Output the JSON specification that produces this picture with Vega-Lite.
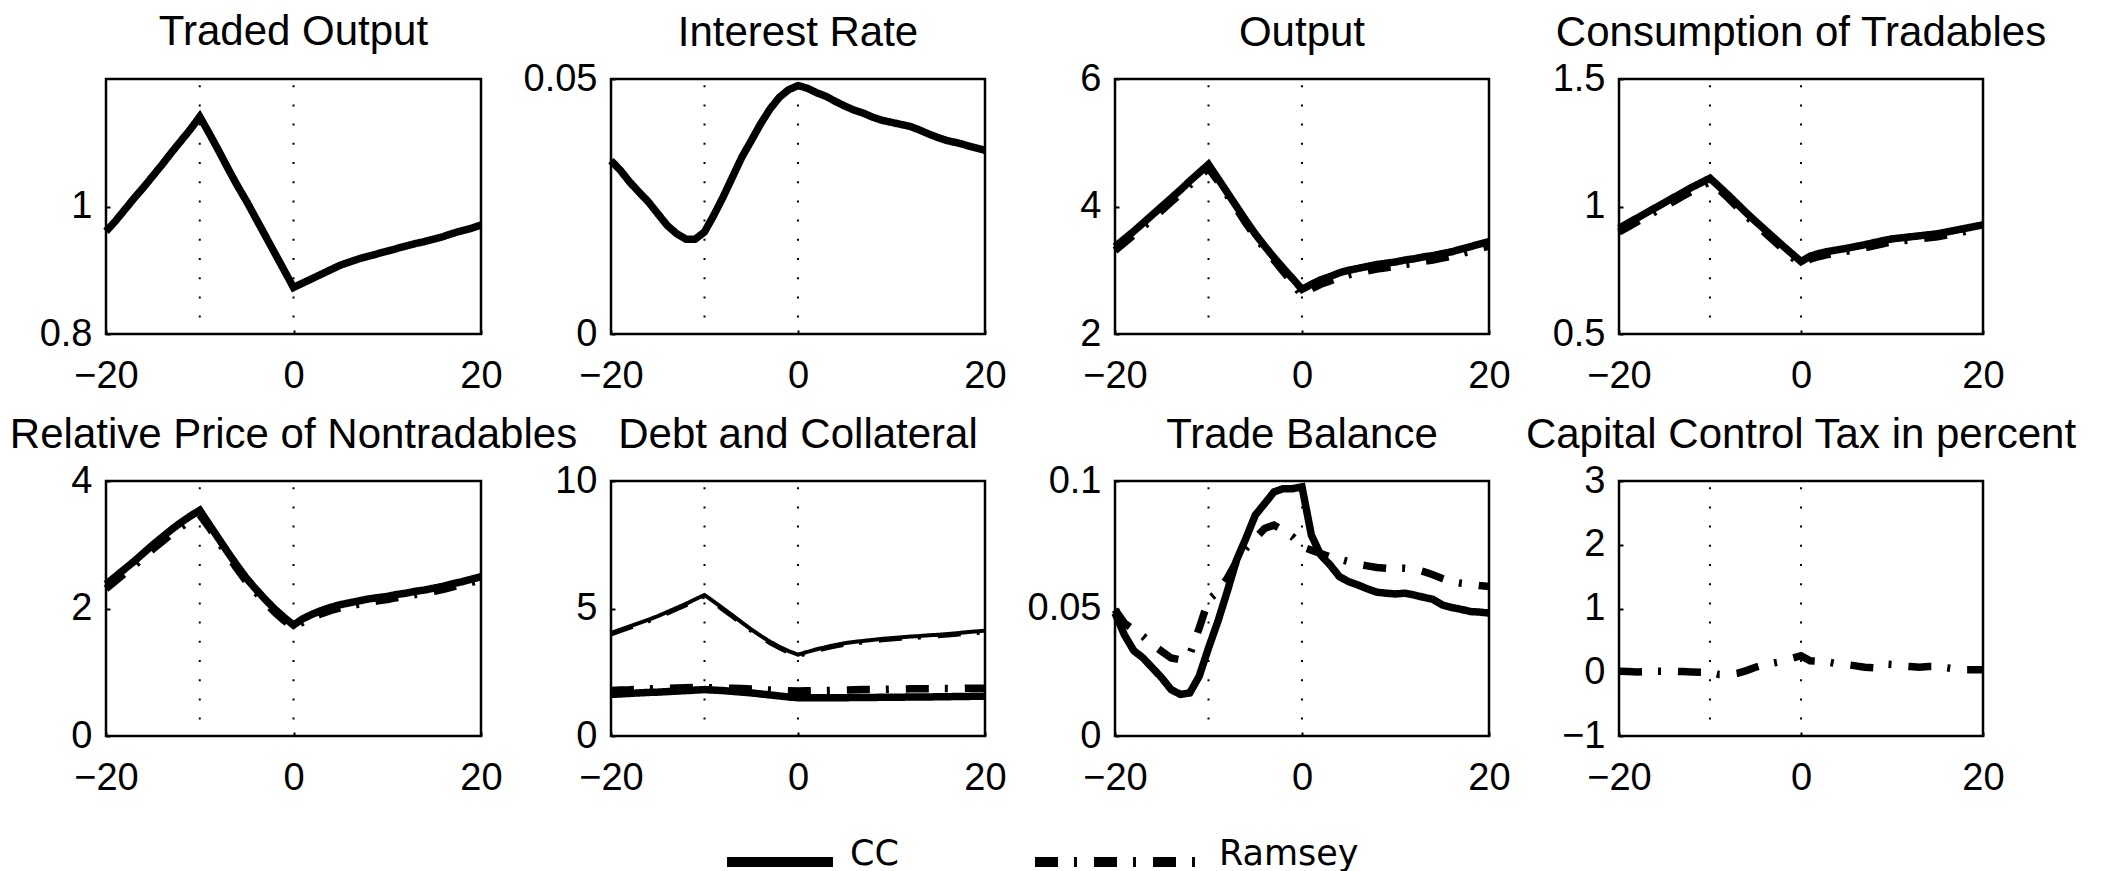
{
"$schema": "https://vega.github.io/schema/vega-lite/v6.json",
"background": "white",
"padding": {"left": 8, "top": 9, "right": 5, "bottom": 5},
"config": {
 "view": {"stroke": "black", "strokeWidth": 2.5},
 "font": "Liberation Sans",
 "axis": {"domain": false, "grid": false, "tickColor": "black", "tickWidth": 2, "tickSize": -4, "labelFont": "Liberation Sans", "labelFontSize": 38, "labelColor": "black", "labelFlush": false},
 "axisX": {"labelPadding": 27},
 "axisY": {"labelPadding": 18},
 "title": {"font": "Liberation Sans", "fontSize": 42, "fontWeight": "normal", "color": "black", "anchor": "middle", "frame": "group", "offset": 5, "baseline": "alphabetic"},
 "legend": {"orient": "none", "legendX": 597, "legendY": 718, "direction": "horizontal", "symbolType": "stroke", "symbolSize": 14400, "symbolStrokeWidth": 10, "symbolStrokeColor": "black", "labelFont": "DejaVu Sans", "labelFontSize": 35, "labelColor": "black", "labelOffset": 17, "columnPadding": 116, "padding": 0}
},
"datasets": {
 "to": [{"x":-20,"s":"CC","y":0.961},{"x":-19,"s":"CC","y":0.977},{"x":-18,"s":"CC","y":0.995},{"x":-17,"s":"CC","y":1.013},{"x":-16,"s":"CC","y":1.030},{"x":-15,"s":"CC","y":1.048},{"x":-14,"s":"CC","y":1.066},{"x":-13,"s":"CC","y":1.085},{"x":-12,"s":"CC","y":1.103},{"x":-11,"s":"CC","y":1.121},{"x":-10,"s":"CC","y":1.141},{"x":-9,"s":"CC","y":1.115},{"x":-8,"s":"CC","y":1.088},{"x":-7,"s":"CC","y":1.060},{"x":-6,"s":"CC","y":1.033},{"x":-5,"s":"CC","y":1.008},{"x":-4,"s":"CC","y":0.981},{"x":-3,"s":"CC","y":0.954},{"x":-2,"s":"CC","y":0.927},{"x":-1,"s":"CC","y":0.900},{"x":0,"s":"CC","y":0.873},{"x":1,"s":"CC","y":0.880},{"x":2,"s":"CC","y":0.887},{"x":3,"s":"CC","y":0.894},{"x":4,"s":"CC","y":0.901},{"x":5,"s":"CC","y":0.908},{"x":6,"s":"CC","y":0.913},{"x":7,"s":"CC","y":0.918},{"x":8,"s":"CC","y":0.922},{"x":9,"s":"CC","y":0.926},{"x":10,"s":"CC","y":0.930},{"x":11,"s":"CC","y":0.934},{"x":12,"s":"CC","y":0.938},{"x":13,"s":"CC","y":0.942},{"x":14,"s":"CC","y":0.945},{"x":15,"s":"CC","y":0.949},{"x":16,"s":"CC","y":0.953},{"x":17,"s":"CC","y":0.958},{"x":18,"s":"CC","y":0.962},{"x":19,"s":"CC","y":0.966},{"x":20,"s":"CC","y":0.971}],
 "ir": [{"x":-20,"s":"CC","y":0.0340},{"x":-19,"s":"CC","y":0.0321},{"x":-18,"s":"CC","y":0.0298},{"x":-17,"s":"CC","y":0.0278},{"x":-16,"s":"CC","y":0.0259},{"x":-15,"s":"CC","y":0.0236},{"x":-14,"s":"CC","y":0.0213},{"x":-13,"s":"CC","y":0.0197},{"x":-12,"s":"CC","y":0.0186},{"x":-11,"s":"CC","y":0.0186},{"x":-10,"s":"CC","y":0.0200},{"x":-9,"s":"CC","y":0.0233},{"x":-8,"s":"CC","y":0.0269},{"x":-7,"s":"CC","y":0.0308},{"x":-6,"s":"CC","y":0.0347},{"x":-5,"s":"CC","y":0.0379},{"x":-4,"s":"CC","y":0.0412},{"x":-3,"s":"CC","y":0.0441},{"x":-2,"s":"CC","y":0.0464},{"x":-1,"s":"CC","y":0.0479},{"x":0,"s":"CC","y":0.0487},{"x":1,"s":"CC","y":0.0482},{"x":2,"s":"CC","y":0.0473},{"x":3,"s":"CC","y":0.0466},{"x":4,"s":"CC","y":0.0456},{"x":5,"s":"CC","y":0.0447},{"x":6,"s":"CC","y":0.0439},{"x":7,"s":"CC","y":0.0433},{"x":8,"s":"CC","y":0.0425},{"x":9,"s":"CC","y":0.0419},{"x":10,"s":"CC","y":0.0415},{"x":11,"s":"CC","y":0.0411},{"x":12,"s":"CC","y":0.0407},{"x":13,"s":"CC","y":0.0400},{"x":14,"s":"CC","y":0.0392},{"x":15,"s":"CC","y":0.0385},{"x":16,"s":"CC","y":0.0379},{"x":17,"s":"CC","y":0.0375},{"x":18,"s":"CC","y":0.0370},{"x":19,"s":"CC","y":0.0365},{"x":20,"s":"CC","y":0.0360}],
 "out": [{"x":-20,"s":"Ramsey","y":3.31},{"x":-19,"s":"Ramsey","y":3.43},{"x":-18,"s":"Ramsey","y":3.55},{"x":-17,"s":"Ramsey","y":3.68},{"x":-16,"s":"Ramsey","y":3.81},{"x":-15,"s":"Ramsey","y":3.94},{"x":-14,"s":"Ramsey","y":4.07},{"x":-13,"s":"Ramsey","y":4.20},{"x":-12,"s":"Ramsey","y":4.34},{"x":-11,"s":"Ramsey","y":4.47},{"x":-10,"s":"Ramsey","y":4.60},{"x":-9,"s":"Ramsey","y":4.40},{"x":-8,"s":"Ramsey","y":4.18},{"x":-7,"s":"Ramsey","y":3.96},{"x":-6,"s":"Ramsey","y":3.74},{"x":-5,"s":"Ramsey","y":3.53},{"x":-4,"s":"Ramsey","y":3.34},{"x":-3,"s":"Ramsey","y":3.16},{"x":-2,"s":"Ramsey","y":2.98},{"x":-1,"s":"Ramsey","y":2.80},{"x":0,"s":"Ramsey","y":2.60},{"x":1,"s":"Ramsey","y":2.71},{"x":2,"s":"Ramsey","y":2.78},{"x":3,"s":"Ramsey","y":2.83},{"x":4,"s":"Ramsey","y":2.89},{"x":5,"s":"Ramsey","y":2.93},{"x":6,"s":"Ramsey","y":2.96},{"x":7,"s":"Ramsey","y":2.99},{"x":8,"s":"Ramsey","y":3.02},{"x":9,"s":"Ramsey","y":3.04},{"x":10,"s":"Ramsey","y":3.06},{"x":11,"s":"Ramsey","y":3.09},{"x":12,"s":"Ramsey","y":3.11},{"x":13,"s":"Ramsey","y":3.14},{"x":14,"s":"Ramsey","y":3.16},{"x":15,"s":"Ramsey","y":3.19},{"x":16,"s":"Ramsey","y":3.22},{"x":17,"s":"Ramsey","y":3.26},{"x":18,"s":"Ramsey","y":3.30},{"x":19,"s":"Ramsey","y":3.34},{"x":20,"s":"Ramsey","y":3.38},
 {"x":-20,"s":"CC","y":3.37},{"x":-19,"s":"CC","y":3.49},{"x":-18,"s":"CC","y":3.61},{"x":-17,"s":"CC","y":3.74},{"x":-16,"s":"CC","y":3.87},{"x":-15,"s":"CC","y":4.00},{"x":-14,"s":"CC","y":4.13},{"x":-13,"s":"CC","y":4.26},{"x":-12,"s":"CC","y":4.40},{"x":-11,"s":"CC","y":4.53},{"x":-10,"s":"CC","y":4.66},{"x":-9,"s":"CC","y":4.44},{"x":-8,"s":"CC","y":4.22},{"x":-7,"s":"CC","y":4.00},{"x":-6,"s":"CC","y":3.78},{"x":-5,"s":"CC","y":3.57},{"x":-4,"s":"CC","y":3.38},{"x":-3,"s":"CC","y":3.20},{"x":-2,"s":"CC","y":3.03},{"x":-1,"s":"CC","y":2.87},{"x":0,"s":"CC","y":2.70},{"x":1,"s":"CC","y":2.78},{"x":2,"s":"CC","y":2.85},{"x":3,"s":"CC","y":2.90},{"x":4,"s":"CC","y":2.96},{"x":5,"s":"CC","y":3.00},{"x":6,"s":"CC","y":3.03},{"x":7,"s":"CC","y":3.06},{"x":8,"s":"CC","y":3.09},{"x":9,"s":"CC","y":3.11},{"x":10,"s":"CC","y":3.13},{"x":11,"s":"CC","y":3.16},{"x":12,"s":"CC","y":3.18},{"x":13,"s":"CC","y":3.21},{"x":14,"s":"CC","y":3.23},{"x":15,"s":"CC","y":3.26},{"x":16,"s":"CC","y":3.29},{"x":17,"s":"CC","y":3.33},{"x":18,"s":"CC","y":3.37},{"x":19,"s":"CC","y":3.41},{"x":20,"s":"CC","y":3.45}],
 "ct": [{"x":-20,"s":"Ramsey","y":0.900},{"x":-19,"s":"Ramsey","y":0.920},{"x":-18,"s":"Ramsey","y":0.940},{"x":-17,"s":"Ramsey","y":0.960},{"x":-16,"s":"Ramsey","y":0.980},{"x":-15,"s":"Ramsey","y":1.000},{"x":-14,"s":"Ramsey","y":1.020},{"x":-13,"s":"Ramsey","y":1.040},{"x":-12,"s":"Ramsey","y":1.060},{"x":-11,"s":"Ramsey","y":1.078},{"x":-10,"s":"Ramsey","y":1.098},{"x":-9,"s":"Ramsey","y":1.066},{"x":-8,"s":"Ramsey","y":1.033},{"x":-7,"s":"Ramsey","y":0.998},{"x":-6,"s":"Ramsey","y":0.963},{"x":-5,"s":"Ramsey","y":0.930},{"x":-4,"s":"Ramsey","y":0.898},{"x":-3,"s":"Ramsey","y":0.866},{"x":-2,"s":"Ramsey","y":0.834},{"x":-1,"s":"Ramsey","y":0.802},{"x":0,"s":"Ramsey","y":0.772},{"x":1,"s":"Ramsey","y":0.793},{"x":2,"s":"Ramsey","y":0.804},{"x":3,"s":"Ramsey","y":0.812},{"x":4,"s":"Ramsey","y":0.818},{"x":5,"s":"Ramsey","y":0.824},{"x":6,"s":"Ramsey","y":0.831},{"x":7,"s":"Ramsey","y":0.838},{"x":8,"s":"Ramsey","y":0.846},{"x":9,"s":"Ramsey","y":0.854},{"x":10,"s":"Ramsey","y":0.861},{"x":11,"s":"Ramsey","y":0.865},{"x":12,"s":"Ramsey","y":0.869},{"x":13,"s":"Ramsey","y":0.873},{"x":14,"s":"Ramsey","y":0.877},{"x":15,"s":"Ramsey","y":0.881},{"x":16,"s":"Ramsey","y":0.888},{"x":17,"s":"Ramsey","y":0.895},{"x":18,"s":"Ramsey","y":0.902},{"x":19,"s":"Ramsey","y":0.909},{"x":20,"s":"Ramsey","y":0.916},
 {"x":-20,"s":"CC","y":0.915},{"x":-19,"s":"CC","y":0.935},{"x":-18,"s":"CC","y":0.955},{"x":-17,"s":"CC","y":0.975},{"x":-16,"s":"CC","y":0.995},{"x":-15,"s":"CC","y":1.015},{"x":-14,"s":"CC","y":1.035},{"x":-13,"s":"CC","y":1.055},{"x":-12,"s":"CC","y":1.075},{"x":-11,"s":"CC","y":1.093},{"x":-10,"s":"CC","y":1.111},{"x":-9,"s":"CC","y":1.078},{"x":-8,"s":"CC","y":1.045},{"x":-7,"s":"CC","y":1.010},{"x":-6,"s":"CC","y":0.975},{"x":-5,"s":"CC","y":0.942},{"x":-4,"s":"CC","y":0.910},{"x":-3,"s":"CC","y":0.878},{"x":-2,"s":"CC","y":0.846},{"x":-1,"s":"CC","y":0.815},{"x":0,"s":"CC","y":0.784},{"x":1,"s":"CC","y":0.805},{"x":2,"s":"CC","y":0.816},{"x":3,"s":"CC","y":0.824},{"x":4,"s":"CC","y":0.830},{"x":5,"s":"CC","y":0.836},{"x":6,"s":"CC","y":0.843},{"x":7,"s":"CC","y":0.850},{"x":8,"s":"CC","y":0.858},{"x":9,"s":"CC","y":0.866},{"x":10,"s":"CC","y":0.873},{"x":11,"s":"CC","y":0.877},{"x":12,"s":"CC","y":0.881},{"x":13,"s":"CC","y":0.885},{"x":14,"s":"CC","y":0.889},{"x":15,"s":"CC","y":0.893},{"x":16,"s":"CC","y":0.900},{"x":17,"s":"CC","y":0.907},{"x":18,"s":"CC","y":0.914},{"x":19,"s":"CC","y":0.921},{"x":20,"s":"CC","y":0.928}],
 "rp": [{"x":-20,"s":"Ramsey","y":2.31},{"x":-19,"s":"Ramsey","y":2.43},{"x":-18,"s":"Ramsey","y":2.55},{"x":-17,"s":"Ramsey","y":2.67},{"x":-16,"s":"Ramsey","y":2.80},{"x":-15,"s":"Ramsey","y":2.93},{"x":-14,"s":"Ramsey","y":3.05},{"x":-13,"s":"Ramsey","y":3.17},{"x":-12,"s":"Ramsey","y":3.28},{"x":-11,"s":"Ramsey","y":3.38},{"x":-10,"s":"Ramsey","y":3.47},{"x":-9,"s":"Ramsey","y":3.27},{"x":-8,"s":"Ramsey","y":3.05},{"x":-7,"s":"Ramsey","y":2.83},{"x":-6,"s":"Ramsey","y":2.62},{"x":-5,"s":"Ramsey","y":2.42},{"x":-4,"s":"Ramsey","y":2.25},{"x":-3,"s":"Ramsey","y":2.09},{"x":-2,"s":"Ramsey","y":1.94},{"x":-1,"s":"Ramsey","y":1.81},{"x":0,"s":"Ramsey","y":1.70},{"x":1,"s":"Ramsey","y":1.79},{"x":2,"s":"Ramsey","y":1.86},{"x":3,"s":"Ramsey","y":1.92},{"x":4,"s":"Ramsey","y":1.97},{"x":5,"s":"Ramsey","y":2.01},{"x":6,"s":"Ramsey","y":2.04},{"x":7,"s":"Ramsey","y":2.07},{"x":8,"s":"Ramsey","y":2.10},{"x":9,"s":"Ramsey","y":2.12},{"x":10,"s":"Ramsey","y":2.14},{"x":11,"s":"Ramsey","y":2.17},{"x":12,"s":"Ramsey","y":2.19},{"x":13,"s":"Ramsey","y":2.22},{"x":14,"s":"Ramsey","y":2.24},{"x":15,"s":"Ramsey","y":2.27},{"x":16,"s":"Ramsey","y":2.30},{"x":17,"s":"Ramsey","y":2.34},{"x":18,"s":"Ramsey","y":2.37},{"x":19,"s":"Ramsey","y":2.41},{"x":20,"s":"Ramsey","y":2.45},
 {"x":-20,"s":"CC","y":2.38},{"x":-19,"s":"CC","y":2.50},{"x":-18,"s":"CC","y":2.62},{"x":-17,"s":"CC","y":2.74},{"x":-16,"s":"CC","y":2.87},{"x":-15,"s":"CC","y":3.00},{"x":-14,"s":"CC","y":3.12},{"x":-13,"s":"CC","y":3.24},{"x":-12,"s":"CC","y":3.35},{"x":-11,"s":"CC","y":3.45},{"x":-10,"s":"CC","y":3.54},{"x":-9,"s":"CC","y":3.32},{"x":-8,"s":"CC","y":3.10},{"x":-7,"s":"CC","y":2.88},{"x":-6,"s":"CC","y":2.67},{"x":-5,"s":"CC","y":2.47},{"x":-4,"s":"CC","y":2.30},{"x":-3,"s":"CC","y":2.14},{"x":-2,"s":"CC","y":1.99},{"x":-1,"s":"CC","y":1.86},{"x":0,"s":"CC","y":1.74},{"x":1,"s":"CC","y":1.84},{"x":2,"s":"CC","y":1.91},{"x":3,"s":"CC","y":1.97},{"x":4,"s":"CC","y":2.02},{"x":5,"s":"CC","y":2.06},{"x":6,"s":"CC","y":2.09},{"x":7,"s":"CC","y":2.12},{"x":8,"s":"CC","y":2.15},{"x":9,"s":"CC","y":2.17},{"x":10,"s":"CC","y":2.19},{"x":11,"s":"CC","y":2.22},{"x":12,"s":"CC","y":2.24},{"x":13,"s":"CC","y":2.27},{"x":14,"s":"CC","y":2.29},{"x":15,"s":"CC","y":2.32},{"x":16,"s":"CC","y":2.35},{"x":17,"s":"CC","y":2.39},{"x":18,"s":"CC","y":2.42},{"x":19,"s":"CC","y":2.46},{"x":20,"s":"CC","y":2.50}],
 "col": [{"x":-20,"s":"Ramsey","y":3.98},{"x":-19,"s":"Ramsey","y":4.11},{"x":-18,"s":"Ramsey","y":4.24},{"x":-17,"s":"Ramsey","y":4.37},{"x":-16,"s":"Ramsey","y":4.50},{"x":-15,"s":"Ramsey","y":4.64},{"x":-14,"s":"Ramsey","y":4.80},{"x":-13,"s":"Ramsey","y":4.96},{"x":-12,"s":"Ramsey","y":5.12},{"x":-11,"s":"Ramsey","y":5.30},{"x":-10,"s":"Ramsey","y":5.47},{"x":-9,"s":"Ramsey","y":5.21},{"x":-8,"s":"Ramsey","y":4.94},{"x":-7,"s":"Ramsey","y":4.67},{"x":-6,"s":"Ramsey","y":4.39},{"x":-5,"s":"Ramsey","y":4.12},{"x":-4,"s":"Ramsey","y":3.87},{"x":-3,"s":"Ramsey","y":3.64},{"x":-2,"s":"Ramsey","y":3.44},{"x":-1,"s":"Ramsey","y":3.27},{"x":0,"s":"Ramsey","y":3.13},{"x":1,"s":"Ramsey","y":3.24},{"x":2,"s":"Ramsey","y":3.34},{"x":3,"s":"Ramsey","y":3.43},{"x":4,"s":"Ramsey","y":3.51},{"x":5,"s":"Ramsey","y":3.58},{"x":6,"s":"Ramsey","y":3.63},{"x":7,"s":"Ramsey","y":3.67},{"x":8,"s":"Ramsey","y":3.71},{"x":9,"s":"Ramsey","y":3.75},{"x":10,"s":"Ramsey","y":3.78},{"x":11,"s":"Ramsey","y":3.81},{"x":12,"s":"Ramsey","y":3.84},{"x":13,"s":"Ramsey","y":3.86},{"x":14,"s":"Ramsey","y":3.89},{"x":15,"s":"Ramsey","y":3.91},{"x":16,"s":"Ramsey","y":3.94},{"x":17,"s":"Ramsey","y":3.97},{"x":18,"s":"Ramsey","y":4.01},{"x":19,"s":"Ramsey","y":4.04},{"x":20,"s":"Ramsey","y":4.07},
 {"x":-20,"s":"CC","y":4.04},{"x":-19,"s":"CC","y":4.17},{"x":-18,"s":"CC","y":4.30},{"x":-17,"s":"CC","y":4.43},{"x":-16,"s":"CC","y":4.56},{"x":-15,"s":"CC","y":4.70},{"x":-14,"s":"CC","y":4.86},{"x":-13,"s":"CC","y":5.02},{"x":-12,"s":"CC","y":5.18},{"x":-11,"s":"CC","y":5.36},{"x":-10,"s":"CC","y":5.53},{"x":-9,"s":"CC","y":5.27},{"x":-8,"s":"CC","y":5.00},{"x":-7,"s":"CC","y":4.73},{"x":-6,"s":"CC","y":4.45},{"x":-5,"s":"CC","y":4.18},{"x":-4,"s":"CC","y":3.93},{"x":-3,"s":"CC","y":3.70},{"x":-2,"s":"CC","y":3.50},{"x":-1,"s":"CC","y":3.33},{"x":0,"s":"CC","y":3.19},{"x":1,"s":"CC","y":3.30},{"x":2,"s":"CC","y":3.40},{"x":3,"s":"CC","y":3.49},{"x":4,"s":"CC","y":3.57},{"x":5,"s":"CC","y":3.64},{"x":6,"s":"CC","y":3.69},{"x":7,"s":"CC","y":3.73},{"x":8,"s":"CC","y":3.77},{"x":9,"s":"CC","y":3.81},{"x":10,"s":"CC","y":3.84},{"x":11,"s":"CC","y":3.87},{"x":12,"s":"CC","y":3.90},{"x":13,"s":"CC","y":3.92},{"x":14,"s":"CC","y":3.95},{"x":15,"s":"CC","y":3.97},{"x":16,"s":"CC","y":4.00},{"x":17,"s":"CC","y":4.03},{"x":18,"s":"CC","y":4.07},{"x":19,"s":"CC","y":4.10},{"x":20,"s":"CC","y":4.13}],
 "debt": [{"x":-20,"s":"Ramsey","y":1.78},{"x":-19,"s":"Ramsey","y":1.80},{"x":-18,"s":"Ramsey","y":1.81},{"x":-17,"s":"Ramsey","y":1.83},{"x":-16,"s":"Ramsey","y":1.85},{"x":-15,"s":"Ramsey","y":1.86},{"x":-14,"s":"Ramsey","y":1.87},{"x":-13,"s":"Ramsey","y":1.88},{"x":-12,"s":"Ramsey","y":1.89},{"x":-11,"s":"Ramsey","y":1.90},{"x":-10,"s":"Ramsey","y":1.90},{"x":-9,"s":"Ramsey","y":1.89},{"x":-8,"s":"Ramsey","y":1.88},{"x":-7,"s":"Ramsey","y":1.87},{"x":-6,"s":"Ramsey","y":1.86},{"x":-5,"s":"Ramsey","y":1.84},{"x":-4,"s":"Ramsey","y":1.82},{"x":-3,"s":"Ramsey","y":1.80},{"x":-2,"s":"Ramsey","y":1.78},{"x":-1,"s":"Ramsey","y":1.77},{"x":0,"s":"Ramsey","y":1.76},{"x":1,"s":"Ramsey","y":1.77},{"x":2,"s":"Ramsey","y":1.78},{"x":3,"s":"Ramsey","y":1.78},{"x":4,"s":"Ramsey","y":1.79},{"x":5,"s":"Ramsey","y":1.80},{"x":6,"s":"Ramsey","y":1.81},{"x":7,"s":"Ramsey","y":1.82},{"x":8,"s":"Ramsey","y":1.82},{"x":9,"s":"Ramsey","y":1.83},{"x":10,"s":"Ramsey","y":1.84},{"x":11,"s":"Ramsey","y":1.84},{"x":12,"s":"Ramsey","y":1.85},{"x":13,"s":"Ramsey","y":1.85},{"x":14,"s":"Ramsey","y":1.85},{"x":15,"s":"Ramsey","y":1.86},{"x":16,"s":"Ramsey","y":1.86},{"x":17,"s":"Ramsey","y":1.86},{"x":18,"s":"Ramsey","y":1.87},{"x":19,"s":"Ramsey","y":1.87},{"x":20,"s":"Ramsey","y":1.87},
 {"x":-20,"s":"CC","y":1.63},{"x":-19,"s":"CC","y":1.65},{"x":-18,"s":"CC","y":1.67},{"x":-17,"s":"CC","y":1.69},{"x":-16,"s":"CC","y":1.71},{"x":-15,"s":"CC","y":1.72},{"x":-14,"s":"CC","y":1.74},{"x":-13,"s":"CC","y":1.76},{"x":-12,"s":"CC","y":1.78},{"x":-11,"s":"CC","y":1.80},{"x":-10,"s":"CC","y":1.82},{"x":-9,"s":"CC","y":1.80},{"x":-8,"s":"CC","y":1.78},{"x":-7,"s":"CC","y":1.75},{"x":-6,"s":"CC","y":1.72},{"x":-5,"s":"CC","y":1.69},{"x":-4,"s":"CC","y":1.65},{"x":-3,"s":"CC","y":1.61},{"x":-2,"s":"CC","y":1.57},{"x":-1,"s":"CC","y":1.53},{"x":0,"s":"CC","y":1.50},{"x":1,"s":"CC","y":1.50},{"x":2,"s":"CC","y":1.50},{"x":3,"s":"CC","y":1.50},{"x":4,"s":"CC","y":1.50},{"x":5,"s":"CC","y":1.50},{"x":6,"s":"CC","y":1.51},{"x":7,"s":"CC","y":1.51},{"x":8,"s":"CC","y":1.51},{"x":9,"s":"CC","y":1.52},{"x":10,"s":"CC","y":1.52},{"x":11,"s":"CC","y":1.52},{"x":12,"s":"CC","y":1.53},{"x":13,"s":"CC","y":1.53},{"x":14,"s":"CC","y":1.53},{"x":15,"s":"CC","y":1.54},{"x":16,"s":"CC","y":1.54},{"x":17,"s":"CC","y":1.55},{"x":18,"s":"CC","y":1.55},{"x":19,"s":"CC","y":1.56},{"x":20,"s":"CC","y":1.56}],
 "tb": [{"x":-20,"s":"Ramsey","y":0.0495},{"x":-19,"s":"Ramsey","y":0.0443},{"x":-18,"s":"Ramsey","y":0.0417},{"x":-17,"s":"Ramsey","y":0.0391},{"x":-16,"s":"Ramsey","y":0.0358},{"x":-15,"s":"Ramsey","y":0.0332},{"x":-14,"s":"Ramsey","y":0.0306},{"x":-13,"s":"Ramsey","y":0.0299},{"x":-12,"s":"Ramsey","y":0.0319},{"x":-11,"s":"Ramsey","y":0.0423},{"x":-10,"s":"Ramsey","y":0.0534},{"x":-9,"s":"Ramsey","y":0.0566},{"x":-8,"s":"Ramsey","y":0.0618},{"x":-7,"s":"Ramsey","y":0.0684},{"x":-6,"s":"Ramsey","y":0.0736},{"x":-5,"s":"Ramsey","y":0.0775},{"x":-4,"s":"Ramsey","y":0.0814},{"x":-3,"s":"Ramsey","y":0.0827},{"x":-2,"s":"Ramsey","y":0.0807},{"x":-1,"s":"Ramsey","y":0.0781},{"x":0,"s":"Ramsey","y":0.0742},{"x":1,"s":"Ramsey","y":0.0729},{"x":2,"s":"Ramsey","y":0.0716},{"x":3,"s":"Ramsey","y":0.0703},{"x":4,"s":"Ramsey","y":0.0694},{"x":5,"s":"Ramsey","y":0.0684},{"x":6,"s":"Ramsey","y":0.0673},{"x":7,"s":"Ramsey","y":0.0667},{"x":8,"s":"Ramsey","y":0.0661},{"x":9,"s":"Ramsey","y":0.0658},{"x":10,"s":"Ramsey","y":0.0658},{"x":11,"s":"Ramsey","y":0.0658},{"x":12,"s":"Ramsey","y":0.0655},{"x":13,"s":"Ramsey","y":0.0645},{"x":14,"s":"Ramsey","y":0.0632},{"x":15,"s":"Ramsey","y":0.0618},{"x":16,"s":"Ramsey","y":0.0605},{"x":17,"s":"Ramsey","y":0.0599},{"x":18,"s":"Ramsey","y":0.0595},{"x":19,"s":"Ramsey","y":0.0590},{"x":20,"s":"Ramsey","y":0.0586},
 {"x":-20,"s":"CC","y":0.0482},{"x":-19,"s":"CC","y":0.0397},{"x":-18,"s":"CC","y":0.0335},{"x":-17,"s":"CC","y":0.0306},{"x":-16,"s":"CC","y":0.0267},{"x":-15,"s":"CC","y":0.0228},{"x":-14,"s":"CC","y":0.0182},{"x":-13,"s":"CC","y":0.0163},{"x":-12,"s":"CC","y":0.0169},{"x":-11,"s":"CC","y":0.0234},{"x":-10,"s":"CC","y":0.0345},{"x":-9,"s":"CC","y":0.0449},{"x":-8,"s":"CC","y":0.0566},{"x":-7,"s":"CC","y":0.0690},{"x":-6,"s":"CC","y":0.0775},{"x":-5,"s":"CC","y":0.0866},{"x":-4,"s":"CC","y":0.0911},{"x":-3,"s":"CC","y":0.0957},{"x":-2,"s":"CC","y":0.0970},{"x":-1,"s":"CC","y":0.0970},{"x":0,"s":"CC","y":0.0977},{"x":1,"s":"CC","y":0.0788},{"x":2,"s":"CC","y":0.0710},{"x":3,"s":"CC","y":0.0671},{"x":4,"s":"CC","y":0.0625},{"x":5,"s":"CC","y":0.0605},{"x":6,"s":"CC","y":0.0592},{"x":7,"s":"CC","y":0.0577},{"x":8,"s":"CC","y":0.0564},{"x":9,"s":"CC","y":0.0560},{"x":10,"s":"CC","y":0.0557},{"x":11,"s":"CC","y":0.0560},{"x":12,"s":"CC","y":0.0553},{"x":13,"s":"CC","y":0.0544},{"x":14,"s":"CC","y":0.0536},{"x":15,"s":"CC","y":0.0514},{"x":16,"s":"CC","y":0.0504},{"x":17,"s":"CC","y":0.0497},{"x":18,"s":"CC","y":0.0488},{"x":19,"s":"CC","y":0.0486},{"x":20,"s":"CC","y":0.0482}],
 "tax": [{"x":-20,"s":"Ramsey","y":0.016},{"x":-19,"s":"Ramsey","y":0.010},{"x":-18,"s":"Ramsey","y":0.005},{"x":-17,"s":"Ramsey","y":0.010},{"x":-16,"s":"Ramsey","y":0.016},{"x":-15,"s":"Ramsey","y":0.016},{"x":-14,"s":"Ramsey","y":0.016},{"x":-13,"s":"Ramsey","y":0.010},{"x":-12,"s":"Ramsey","y":0.005},{"x":-11,"s":"Ramsey","y":0.0},{"x":-10,"s":"Ramsey","y":0.0},{"x":-9,"s":"Ramsey","y":-0.036},{"x":-8,"s":"Ramsey","y":-0.036},{"x":-7,"s":"Ramsey","y":-0.016},{"x":-6,"s":"Ramsey","y":0.026},{"x":-5,"s":"Ramsey","y":0.078},{"x":-4,"s":"Ramsey","y":0.12},{"x":-3,"s":"Ramsey","y":0.146},{"x":-2,"s":"Ramsey","y":0.172},{"x":-1,"s":"Ramsey","y":0.22},{"x":0,"s":"Ramsey","y":0.26},{"x":1,"s":"Ramsey","y":0.18},{"x":2,"s":"Ramsey","y":0.17},{"x":3,"s":"Ramsey","y":0.16},{"x":4,"s":"Ramsey","y":0.13},{"x":5,"s":"Ramsey","y":0.12},{"x":6,"s":"Ramsey","y":0.10},{"x":7,"s":"Ramsey","y":0.08},{"x":8,"s":"Ramsey","y":0.07},{"x":9,"s":"Ramsey","y":0.13},{"x":10,"s":"Ramsey","y":0.12},{"x":11,"s":"Ramsey","y":0.10},{"x":12,"s":"Ramsey","y":0.09},{"x":13,"s":"Ramsey","y":0.08},{"x":14,"s":"Ramsey","y":0.09},{"x":15,"s":"Ramsey","y":0.09},{"x":16,"s":"Ramsey","y":0.07},{"x":17,"s":"Ramsey","y":0.05},{"x":18,"s":"Ramsey","y":0.04},{"x":19,"s":"Ramsey","y":0.04},{"x":20,"s":"Ramsey","y":0.04}],
 "vl": [{"x":-10},{"x":0}]
},
"columns": 4,
"spacing": {"row": 147, "column": 130},
"bounds": "flush",
"resolve": {"scale": {"strokeDash": "shared"}, "legend": {"strokeDash": "shared"}},
"concat": [
 {"title": {"text": "Traded Output", "offset": 24}, "width": 375, "height": 255, "layer": [
  {"data": {"name": "vl"}, "mark": {"type": "rule", "color": "black", "strokeWidth": 2, "strokeDash": [2, 17.2], "strokeDashOffset": 13}, "encoding": {"x": {"field": "x", "type": "quantitative", "title": null, "scale": {"domain": [-20, 20], "nice": false, "zero": false, "padding": 0}}}},
  {"data": {"name": "to"}, "mark": {"type": "line", "color": "black", "strokeWidth": 7.5},
   "encoding": {"x": {"field": "x", "type": "quantitative", "title": null, "scale": {"domain": [-20, 20], "nice": false, "zero": false, "padding": 0}, "axis": {"values": [-20, 0, 20], "format": "~r"}},
    "y": {"field": "y", "type": "quantitative", "title": null, "scale": {"domain": [0.8, 1.2], "nice": false, "zero": false}, "axis": {"values": [0.8, 1], "format": "~r"}},
    "strokeDash": {"field": "s", "type": "nominal", "scale": {"domain": ["CC", "Ramsey"], "range": [[1, 0], [23, 16, 3, 17]]},
     "legend": {"title": null, "encode": {"labels": {"update": {"dy": {"value": -8}}}, "symbols": {"update": {"shape": {"signal": "datum.value === 'CC' ? 'M-0.683,0H1.083' : 'M-1.7,0H1.067'"}, "strokeDash": {"signal": "datum.value === 'CC' ? [1, 0] : [24, 11, 8, 13]"}}}}}
    }
   }
  }
 ]},
 {"title": "Interest Rate", "width": 374, "height": 255, "layer": [
  {"data": {"name": "vl"}, "mark": {"type": "rule", "color": "black", "strokeWidth": 2, "strokeDash": [2, 17.2], "strokeDashOffset": 13}, "encoding": {"x": {"field": "x", "type": "quantitative", "title": null, "scale": {"domain": [-20, 20], "nice": false, "zero": false, "padding": 0}}}},
  {"data": {"name": "ir"}, "mark": {"type": "line", "color": "black", "strokeWidth": 7.5},
   "encoding": {"x": {"field": "x", "type": "quantitative", "title": null, "scale": {"domain": [-20, 20], "nice": false, "zero": false, "padding": 0}, "axis": {"values": [-20, 0, 20], "format": "~r"}},
    "y": {"field": "y", "type": "quantitative", "title": null, "scale": {"domain": [0, 0.05], "nice": false, "zero": false}, "axis": {"values": [0, 0.05], "format": "~r"}},
    "strokeDash": {"field": "s", "type": "nominal", "scale": {"domain": ["CC", "Ramsey"], "range": [[1, 0], [23, 16, 3, 17]]},
     "legend": {"title": null, "encode": {"labels": {"update": {"dy": {"value": -8}}}, "symbols": {"update": {"shape": {"signal": "datum.value === 'CC' ? 'M-0.683,0H1.083' : 'M-1.7,0H1.067'"}, "strokeDash": {"signal": "datum.value === 'CC' ? [1, 0] : [24, 11, 8, 13]"}}}}}
    }
   }
  }
 ]},
 {"title": "Output", "width": 374, "height": 255, "layer": [
  {"data": {"name": "vl"}, "mark": {"type": "rule", "color": "black", "strokeWidth": 2, "strokeDash": [2, 17.2], "strokeDashOffset": 13}, "encoding": {"x": {"field": "x", "type": "quantitative", "title": null, "scale": {"domain": [-20, 20], "nice": false, "zero": false, "padding": 0}}}},
  {"data": {"name": "out"}, "mark": {"type": "line", "color": "black", "strokeWidth": 7.5},
   "encoding": {"x": {"field": "x", "type": "quantitative", "title": null, "scale": {"domain": [-20, 20], "nice": false, "zero": false, "padding": 0}, "axis": {"values": [-20, 0, 20], "format": "~r"}},
    "y": {"field": "y", "type": "quantitative", "title": null, "scale": {"domain": [2, 6], "nice": false, "zero": false}, "axis": {"values": [2, 4, 6], "format": "~r"}},
    "strokeDash": {"field": "s", "type": "nominal", "scale": {"domain": ["CC", "Ramsey"], "range": [[1, 0], [23, 16, 3, 17]]},
     "legend": {"title": null, "encode": {"labels": {"update": {"dy": {"value": -8}}}, "symbols": {"update": {"shape": {"signal": "datum.value === 'CC' ? 'M-0.683,0H1.083' : 'M-1.7,0H1.067'"}, "strokeDash": {"signal": "datum.value === 'CC' ? [1, 0] : [24, 11, 8, 13]"}}}}}
    }
   }
  }
 ]},
 {"title": "Consumption of Tradables", "width": 364, "height": 255, "layer": [
  {"data": {"name": "vl"}, "mark": {"type": "rule", "color": "black", "strokeWidth": 2, "strokeDash": [2, 17.2], "strokeDashOffset": 13}, "encoding": {"x": {"field": "x", "type": "quantitative", "title": null, "scale": {"domain": [-20, 20], "nice": false, "zero": false, "padding": 0}}}},
  {"data": {"name": "ct"}, "mark": {"type": "line", "color": "black", "strokeWidth": 7.5},
   "encoding": {"x": {"field": "x", "type": "quantitative", "title": null, "scale": {"domain": [-20, 20], "nice": false, "zero": false, "padding": 0}, "axis": {"values": [-20, 0, 20], "format": "~r"}},
    "y": {"field": "y", "type": "quantitative", "title": null, "scale": {"domain": [0.5, 1.5], "nice": false, "zero": false}, "axis": {"values": [0.5, 1, 1.5], "format": "~r"}},
    "strokeDash": {"field": "s", "type": "nominal", "scale": {"domain": ["CC", "Ramsey"], "range": [[1, 0], [23, 16, 3, 17]]},
     "legend": {"title": null, "encode": {"labels": {"update": {"dy": {"value": -8}}}, "symbols": {"update": {"shape": {"signal": "datum.value === 'CC' ? 'M-0.683,0H1.083' : 'M-1.7,0H1.067'"}, "strokeDash": {"signal": "datum.value === 'CC' ? [1, 0] : [24, 11, 8, 13]"}}}}}
    }
   }
  }
 ]},
 {"title": "Relative Price of Nontradables", "width": 375, "height": 255, "layer": [
  {"data": {"name": "vl"}, "mark": {"type": "rule", "color": "black", "strokeWidth": 2, "strokeDash": [2, 17.2], "strokeDashOffset": 13}, "encoding": {"x": {"field": "x", "type": "quantitative", "title": null, "scale": {"domain": [-20, 20], "nice": false, "zero": false, "padding": 0}}}},
  {"data": {"name": "rp"}, "mark": {"type": "line", "color": "black", "strokeWidth": 7.5},
   "encoding": {"x": {"field": "x", "type": "quantitative", "title": null, "scale": {"domain": [-20, 20], "nice": false, "zero": false, "padding": 0}, "axis": {"values": [-20, 0, 20], "format": "~r"}},
    "y": {"field": "y", "type": "quantitative", "title": null, "scale": {"domain": [0, 4], "nice": false, "zero": false}, "axis": {"values": [0, 2, 4], "format": "~r"}},
    "strokeDash": {"field": "s", "type": "nominal", "scale": {"domain": ["CC", "Ramsey"], "range": [[1, 0], [23, 16, 3, 17]]},
     "legend": {"title": null, "encode": {"labels": {"update": {"dy": {"value": -8}}}, "symbols": {"update": {"shape": {"signal": "datum.value === 'CC' ? 'M-0.683,0H1.083' : 'M-1.7,0H1.067'"}, "strokeDash": {"signal": "datum.value === 'CC' ? [1, 0] : [24, 11, 8, 13]"}}}}}
    }
   }
  }
 ]},
 {"title": "Debt and Collateral", "width": 374, "height": 255, "layer": [
  {"data": {"name": "vl"}, "mark": {"type": "rule", "color": "black", "strokeWidth": 2, "strokeDash": [2, 17.2], "strokeDashOffset": 13}, "encoding": {"x": {"field": "x", "type": "quantitative", "title": null, "scale": {"domain": [-20, 20], "nice": false, "zero": false, "padding": 0}}}},
  {"data": {"name": "col"}, "mark": {"type": "line", "color": "black", "strokeWidth": 4},
   "encoding": {"x": {"field": "x", "type": "quantitative", "title": null, "scale": {"domain": [-20, 20], "nice": false, "zero": false, "padding": 0}, "axis": {"values": [-20, 0, 20], "format": "~r"}},
    "y": {"field": "y", "type": "quantitative", "title": null, "scale": {"domain": [0, 10], "nice": false, "zero": false}, "axis": {"values": [0, 5, 10], "format": "~r"}},
    "strokeDash": {"field": "s", "type": "nominal", "scale": {"domain": ["CC", "Ramsey"], "range": [[1, 0], [23, 16, 3, 17]]},
     "legend": {"title": null, "encode": {"labels": {"update": {"dy": {"value": -8}}}, "symbols": {"update": {"shape": {"signal": "datum.value === 'CC' ? 'M-0.683,0H1.083' : 'M-1.7,0H1.067'"}, "strokeDash": {"signal": "datum.value === 'CC' ? [1, 0] : [24, 11, 8, 13]"}}}}}
    }
   }
  },
  {"data": {"name": "debt"}, "mark": {"type": "line", "color": "black", "strokeWidth": 7.5},
   "encoding": {"x": {"field": "x", "type": "quantitative", "title": null, "scale": {"domain": [-20, 20], "nice": false, "zero": false, "padding": 0}, "axis": {"values": [-20, 0, 20], "format": "~r"}},
    "y": {"field": "y", "type": "quantitative", "title": null, "scale": {"domain": [0, 10], "nice": false, "zero": false}, "axis": {"values": [0, 5, 10], "format": "~r"}},
    "strokeDash": {"field": "s", "type": "nominal", "scale": {"domain": ["CC", "Ramsey"], "range": [[1, 0], [23, 16, 3, 17]]},
     "legend": {"title": null, "encode": {"labels": {"update": {"dy": {"value": -8}}}, "symbols": {"update": {"shape": {"signal": "datum.value === 'CC' ? 'M-0.683,0H1.083' : 'M-1.7,0H1.067'"}, "strokeDash": {"signal": "datum.value === 'CC' ? [1, 0] : [24, 11, 8, 13]"}}}}}
    }
   }
  }
 ]},
 {"title": "Trade Balance", "width": 374, "height": 255, "layer": [
  {"data": {"name": "vl"}, "mark": {"type": "rule", "color": "black", "strokeWidth": 2, "strokeDash": [2, 17.2], "strokeDashOffset": 13}, "encoding": {"x": {"field": "x", "type": "quantitative", "title": null, "scale": {"domain": [-20, 20], "nice": false, "zero": false, "padding": 0}}}},
  {"data": {"name": "tb"}, "mark": {"type": "line", "color": "black", "strokeWidth": 7.5},
   "encoding": {"x": {"field": "x", "type": "quantitative", "title": null, "scale": {"domain": [-20, 20], "nice": false, "zero": false, "padding": 0}, "axis": {"values": [-20, 0, 20], "format": "~r"}},
    "y": {"field": "y", "type": "quantitative", "title": null, "scale": {"domain": [0, 0.1], "nice": false, "zero": false}, "axis": {"values": [0, 0.05, 0.1], "format": "~r"}},
    "strokeDash": {"field": "s", "type": "nominal", "scale": {"domain": ["CC", "Ramsey"], "range": [[1, 0], [23, 16, 3, 17]]},
     "legend": {"title": null, "encode": {"labels": {"update": {"dy": {"value": -8}}}, "symbols": {"update": {"shape": {"signal": "datum.value === 'CC' ? 'M-0.683,0H1.083' : 'M-1.7,0H1.067'"}, "strokeDash": {"signal": "datum.value === 'CC' ? [1, 0] : [24, 11, 8, 13]"}}}}}
    }
   }
  }
 ]},
 {"title": "Capital Control Tax in percent", "width": 364, "height": 255, "layer": [
  {"data": {"name": "vl"}, "mark": {"type": "rule", "color": "black", "strokeWidth": 2, "strokeDash": [2, 17.2], "strokeDashOffset": 13}, "encoding": {"x": {"field": "x", "type": "quantitative", "title": null, "scale": {"domain": [-20, 20], "nice": false, "zero": false, "padding": 0}}}},
  {"data": {"name": "tax"}, "mark": {"type": "line", "color": "black", "strokeWidth": 7.5},
   "encoding": {"x": {"field": "x", "type": "quantitative", "title": null, "scale": {"domain": [-20, 20], "nice": false, "zero": false, "padding": 0}, "axis": {"values": [-20, 0, 20], "format": "~r"}},
    "y": {"field": "y", "type": "quantitative", "title": null, "scale": {"domain": [-1, 3], "nice": false, "zero": false}, "axis": {"values": [-1, 0, 1, 2, 3], "format": "~r"}},
    "strokeDash": {"field": "s", "type": "nominal", "scale": {"domain": ["CC", "Ramsey"], "range": [[1, 0], [23, 16, 3, 17]]},
     "legend": {"title": null, "encode": {"labels": {"update": {"dy": {"value": -8}}}, "symbols": {"update": {"shape": {"signal": "datum.value === 'CC' ? 'M-0.683,0H1.083' : 'M-1.7,0H1.067'"}, "strokeDash": {"signal": "datum.value === 'CC' ? [1, 0] : [24, 11, 8, 13]"}}}}}
    }
   }
  }
 ]}
]
}
